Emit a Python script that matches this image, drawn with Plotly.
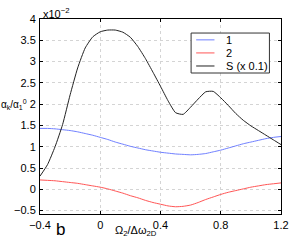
import plotly.graph_objects as go

x_vals = [-0.4, -0.35, -0.3, -0.25, -0.2, -0.15, -0.1, -0.05, 0.0, 0.05, 0.1, 0.15, 0.2, 0.25,
          0.3, 0.35, 0.4, 0.45, 0.5, 0.55, 0.6, 0.65, 0.7, 0.75, 0.8, 0.85, 0.9, 0.95, 1.0,
          1.05, 1.1, 1.15, 1.2]
series_1 = [1.43, 1.43, 1.42, 1.40, 1.38, 1.35, 1.31, 1.27, 1.22, 1.17, 1.11, 1.06, 1.01, 0.97,
            0.93, 0.90, 0.87, 0.85, 0.83, 0.82, 0.81, 0.82, 0.84, 0.88, 0.92, 0.97, 1.02, 1.07,
            1.11, 1.15, 1.19, 1.22, 1.24]
series_2 = [0.22, 0.21, 0.20, 0.18, 0.16, 0.14, 0.11, 0.08, 0.05, 0.01, -0.04, -0.09, -0.15,
            -0.20, -0.26, -0.31, -0.35, -0.39, -0.41, -0.40, -0.37, -0.31, -0.24, -0.18, -0.12,
            -0.07, -0.03, 0.01, 0.05, 0.08, 0.11, 0.13, 0.15]
series_s = [0.31, 0.58, 1.00, 1.52, 2.22, 2.85, 3.32, 3.58, 3.70, 3.74, 3.74, 3.69, 3.57, 3.35,
            3.07, 2.75, 2.42, 2.08, 1.80, 1.76, 1.93, 2.12, 2.29, 2.30, 2.15, 1.97, 1.78, 1.62,
            1.49, 1.38, 1.27, 1.16, 1.05]
names = ["1", "2", "S (x 0.1)"]
colors = ["#6f7fff", "#ff5555", "#222222"]

x_ticks = [-0.4, 0, 0.4, 0.8, 1.2]
x_ticklabels = ["\u22120.4", "0", "0.4", "0.8", "1.2"]
y_ticks = [-0.5, 0, 0.5, 1, 1.5, 2, 2.5, 3, 3.5, 4]
y_ticklabels = ["\u22120.5", "0", "0.5", "1", "1.5", "2", "2.5", "3", "3.5", "4"]

font = "Liberation Sans, Arial, sans-serif"

fig = go.Figure()
for ys, n, c in zip([series_1, series_2, series_s], names, colors):
    fig.add_trace(go.Scatter(x=x_vals, y=ys, mode="lines", name=n, showlegend=False,
                             line=dict(color=c, width=1, shape="spline", smoothing=0.5)))

axis_common = dict(showline=True, linecolor="black", linewidth=1, mirror="ticks",
                   ticks="inside", ticklen=3, tickcolor="black",
                   showgrid=True, gridcolor="#d4d4d4", griddash="dot", gridwidth=1,
                   zeroline=False, ticklabeloverflow="allow",
                   tickfont=dict(size=11, color="black", family=font))

fig.update_layout(
    width=299, height=241,
    margin=dict(l=40, r=10, t=19, b=27),
    paper_bgcolor="white", plot_bgcolor="white",
    font=dict(family=font, color="black", size=11),
    xaxis=dict(range=[-0.4, 1.2], tickvals=x_ticks, ticktext=x_ticklabels, ticklabelstandoff=1,
               **axis_common),
    yaxis=dict(range=[-0.58, 4], tickvals=y_ticks, ticktext=y_ticklabels, ticklabelstandoff=1,
               **axis_common),
    showlegend=False,
)

# Legend box (drawn in paper coordinates)
box_x0, box_x1, box_y0, box_y1 = 0.627, 0.952, 0.723, 0.928
fig.add_shape(type="rect", xref="paper", yref="paper", x0=box_x0, x1=box_x1, y0=box_y0, y1=box_y1,
              line=dict(color="#333333", width=1), fillcolor="white", layer="above")
row_y = [0.893, 0.826, 0.759]
for n, c, ry in zip(names, colors, row_y):
    fig.add_shape(type="line", xref="paper", yref="paper", x0=0.648, x1=0.724, y0=ry, y1=ry,
                  line=dict(color=c, width=1), layer="above")
    fig.add_annotation(xref="paper", yref="paper", x=0.763, y=ry, xanchor="left", yanchor="middle",
                       text=n, showarrow=False, font=dict(size=11, family=font))

fig.add_annotation(xref="paper", yref="paper", x=0.0, y=1.0, xanchor="left", yanchor="bottom",
                   text="x10<sup>\u22122</sup>", showarrow=False,
                   font=dict(size=11, family=font), xshift=1, yshift=-3)
fig.add_annotation(xref="paper", yref="paper", x=0.0, y=0.56, xanchor="left", yanchor="middle",
                   text="\u03b1<sub>k</sub>/\u03b1<sub>1</sub><sup>0</sup>", showarrow=False,
                   font=dict(size=10, family=font), xshift=-41)
fig.add_annotation(xref="paper", yref="paper", x=0.0, y=0.0, xanchor="left", yanchor="bottom",
                   text="\u03a9<sub>2</sub>/\u0394\u03c9<sub>2D</sub>", showarrow=False,
                   font=dict(size=11, family=font), xshift=73, yshift=-26)
fig.add_annotation(xref="paper", yref="paper", x=0.0, y=0.0, xanchor="left", yanchor="bottom",
                   text="b", showarrow=False,
                   font=dict(size=17, family=font), xshift=14, yshift=-27)

fig.write_html("out.html", config={"displayModeBar": False},
               post_script="document.body.style.margin='0';document.body.style.overflow='hidden';")
